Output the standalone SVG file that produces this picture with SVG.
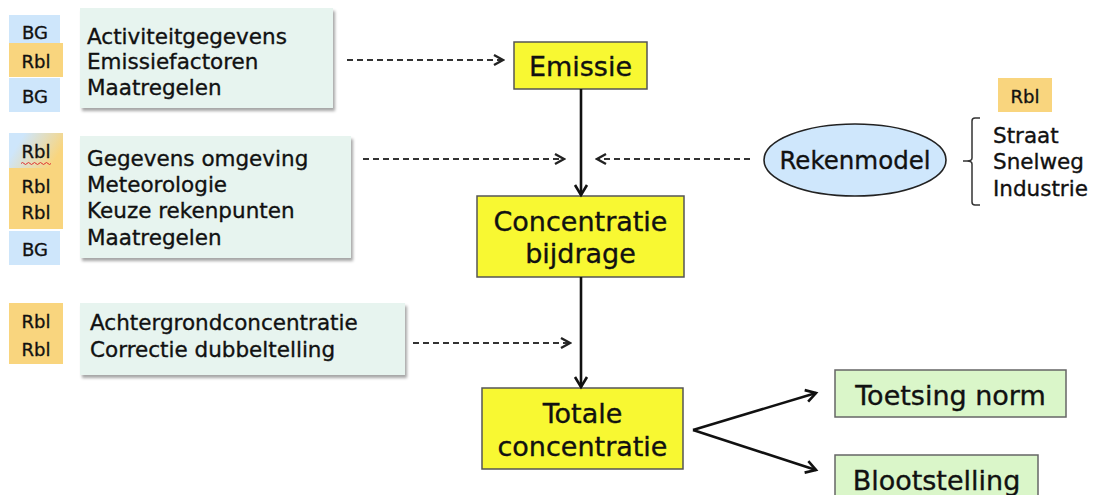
<svg xmlns="http://www.w3.org/2000/svg" width="1096" height="495" viewBox="0 0 1096 495">
<defs>
<style>
text{font-family:"DejaVu Sans","Liberation Sans",sans-serif;fill:#111;stroke:#111;stroke-width:0.35}
.badge{font-size:18px;text-anchor:middle}
.lst{font-size:21.5px}
.big{font-size:27px;text-anchor:middle}
.mid{font-size:24.5px;text-anchor:middle}
.blue{fill:#cee6fb}
.orange{fill:#f9d57e}
.mint{fill:#e7f4ef}
.yellow{fill:#f8f832;stroke:#555;stroke-width:1.5}
.green{fill:#daf6c9;stroke:#666;stroke-width:1.5}
.solid{stroke:#111;stroke-width:2.6;fill:none}
.dash{stroke:#333;stroke-width:2;stroke-dasharray:6 4;fill:none}
</style>
<linearGradient id="grad" x1="0" y1="0" x2="1" y2="0.4">
<stop offset="0.25" stop-color="#cee6fb"/>
<stop offset="1" stop-color="#f9d57e"/>
</linearGradient>
<filter id="sh" x="-5%" y="-10%" width="115%" height="130%">
<feDropShadow dx="2" dy="3" stdDeviation="1.8" flood-color="#000" flood-opacity="0.35"/>
</filter>
<marker id="ah" markerUnits="userSpaceOnUse" markerWidth="16" markerHeight="16" viewBox="0 0 16 16" refX="13" refY="8" orient="auto">
<path d="M3,2 L13,8 L3,14" fill="none" stroke="#111" stroke-width="2.6"/>
</marker>
<marker id="ahd" markerUnits="userSpaceOnUse" markerWidth="14" markerHeight="14" viewBox="0 0 14 14" refX="12" refY="7" orient="auto">
<path d="M3,2 L12,7 L3,12" fill="none" stroke="#222" stroke-width="2.4"/>
</marker>
</defs>
<rect width="1096" height="495" fill="#fff"/>

<g id="badges1">
<rect class="blue" x="9" y="15" width="51" height="28"/>
<rect class="orange" x="9" y="43" width="54" height="34"/>
<rect class="blue" x="9" y="78" width="51" height="34"/>
<text class="badge" x="35" y="39">BG</text>
<text class="badge" x="36" y="68">Rbl</text>
<text class="badge" x="35" y="103">BG</text>
</g>
<g id="inputs1">
<rect class="mint" x="80" y="8" width="253" height="100" filter="url(#sh)"/>
<text class="lst" x="87" y="44">Activiteitgegevens</text>
<text class="lst" x="87" y="69">Emissiefactoren</text>
<text class="lst" x="87" y="95">Maatregelen</text>
</g>

<g id="badges2">
<rect fill="url(#grad)" x="9" y="133" width="54" height="35"/>
<rect class="orange" x="9" y="168" width="54" height="61"/>
<rect class="blue" x="9" y="231" width="51" height="34"/>
<text class="badge" x="36" y="158">Rbl</text>
<path d="M21,163.5 q1.5,-2 3,0 t3,0 t3,0 t3,0 t3,0 t3,0 t3,0 t3,0 t3,0 t3,0" fill="none" stroke="#e03030" stroke-width="1"/>
<text class="badge" x="36" y="193">Rbl</text>
<text class="badge" x="36" y="219">Rbl</text>
<text class="badge" x="35" y="256">BG</text>
</g>
<g id="inputs2">
<rect class="mint" x="80" y="136" width="271" height="122" filter="url(#sh)"/>
<text class="lst" x="87" y="166">Gegevens omgeving</text>
<text class="lst" x="87" y="192">Meteorologie</text>
<text class="lst" x="87" y="218">Keuze rekenpunten</text>
<text class="lst" x="87" y="245">Maatregelen</text>
</g>

<g id="badges3">
<rect class="orange" x="9" y="303" width="54" height="61"/>
<text class="badge" x="36" y="328">Rbl</text>
<text class="badge" x="36" y="356">Rbl</text>
</g>
<g id="inputs3">
<rect class="mint" x="80" y="303" width="325" height="72" filter="url(#sh)"/>
<text class="lst" x="90" y="330">Achtergrondconcentratie</text>
<text class="lst" x="90" y="357">Correctie dubbeltelling</text>
</g>

<g id="emissie">
<rect class="yellow" x="514" y="42" width="133" height="47"/>
<text class="big" x="580.5" y="76">Emissie</text>
</g>
<g id="concentratie">
<rect class="yellow" x="477" y="196" width="207" height="81"/>
<text class="big" x="580.5" y="231">Concentratie</text>
<text class="big" x="580.5" y="263">bijdrage</text>
</g>
<g id="totale">
<rect class="yellow" x="482" y="388" width="201" height="81"/>
<text class="big" x="582.5" y="423">Totale</text>
<text class="big" x="582.5" y="456">concentratie</text>
</g>
<g id="toetsing">
<rect class="green" x="835" y="370" width="231" height="47"/>
<text class="big" x="950.5" y="405">Toetsing norm</text>
</g>
<g id="blootstelling">
<rect class="green" x="835" y="455" width="203" height="46"/>
<text class="big" x="936.5" y="490">Blootstelling</text>
</g>
<g id="rekenmodel">
<ellipse cx="855" cy="160" rx="91" ry="36" fill="#cfe7fc" stroke="#222" stroke-width="1.6"/>
<text class="mid" x="855" y="169">Rekenmodel</text>
</g>
<g id="modellen">
<rect class="orange" x="998" y="78" width="54" height="34"/>
<text class="badge" x="1025" y="103">Rbl</text>
<path d="M980,118 L975,118 Q972,118 972,121 L972,158 Q972,161 967,161 L963,161 L967,161 Q972,161 972,164 L972,202 Q972,205 975,205 L980,205" fill="none" stroke="#333" stroke-width="1.5"/>
<text class="lst" x="993" y="143">Straat</text>
<text class="lst" x="993" y="169">Snelweg</text>
<text class="lst" x="993" y="196">Industrie</text>
</g>

<g id="connectors">
<line class="solid" x1="581" y1="89" x2="581" y2="195" marker-end="url(#ah)"/>
<line class="solid" x1="581" y1="277" x2="581" y2="387" marker-end="url(#ah)"/>
<line class="solid" x1="693" y1="430" x2="816" y2="393" marker-end="url(#ah)"/>
<line class="solid" x1="693" y1="430" x2="816" y2="470" marker-end="url(#ah)"/>
<line class="dash" x1="347" y1="60" x2="503" y2="60" marker-end="url(#ahd)"/>
<line class="dash" x1="363" y1="159" x2="564" y2="159" marker-end="url(#ahd)"/>
<line class="dash" x1="750" y1="159" x2="597" y2="159" marker-end="url(#ahd)"/>
<line class="dash" x1="413" y1="343" x2="570" y2="343" marker-end="url(#ahd)"/>
</g>
</svg>
